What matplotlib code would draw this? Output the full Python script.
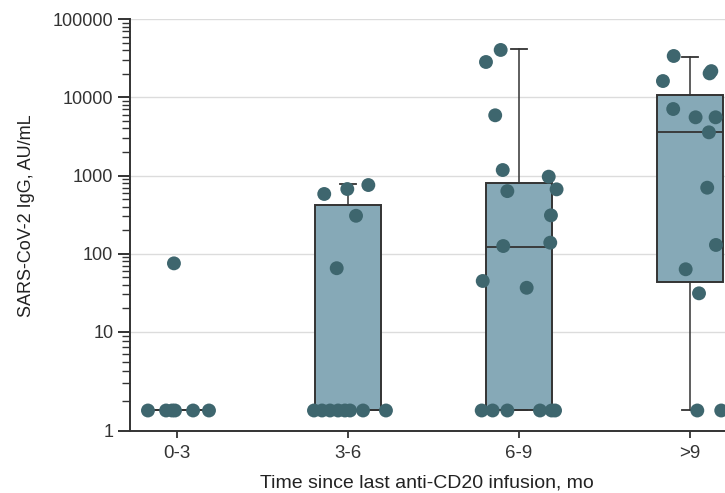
import numpy as np
import matplotlib.pyplot as plt
from matplotlib.ticker import FixedLocator, FixedFormatter, NullFormatter

plt.rcParams['font.family'] = ['Liberation Sans', 'DejaVu Sans']

# groups and read-off values
groups = ['0-3', '3-6', '6-9', '>9']
LOD = 1.6

vals_03 = [LOD, LOD, LOD, LOD, LOD, LOD, 75]
jit_03 = [-0.17, -0.064, -0.029, -0.012, 0.094, 0.187, -0.018]

vals_36 = [580, 671, 755, 305, 65, LOD, LOD, LOD, LOD, LOD, LOD, LOD, LOD]
jit_36 = [-0.139, -0.004, 0.119, 0.047, -0.066,
          -0.199, -0.152, -0.105, -0.058, -0.018, 0.012, 0.088, 0.222]

vals_69 = [28400, 40500, 5900, 1175, 631, 966, 665, 309, 138, 125, 44.6, 36.5,
           LOD, LOD, LOD, LOD, LOD, LOD]
jit_69 = [-0.193, -0.107, -0.139, -0.095, -0.068, 0.174, 0.22, 0.187, 0.183, -0.092, -0.212, 0.045,
          -0.218, -0.154, -0.068, 0.123, 0.191, 0.211]

vals_9 = [33900, 16200, 20300, 21700, 7100, 5560, 5560, 3570, 698, 129, 63, 31, LOD, LOD]
jit_9 = [-0.095, -0.158, 0.115, 0.125, -0.098, 0.033, 0.15, 0.111, 0.101, 0.152, -0.025, 0.053,
         0.043, 0.183]

# box stats: q1, median, q3, whisker low, whisker high
q1 = [LOD, LOD, LOD, 42.9]
med = [LOD, LOD, 122, 3570]
q3 = [LOD, 419, 809, 10700]
whislo = [LOD, LOD, LOD, LOD]
whishi = [LOD, 771, 41300, 32600]

box_color = '#86a9b7'
dot_color = '#3e666e'
line_color = '#333333'

# the bottom decade (1-10) is drawn taller than the others
K = 99 / 78.1


def fwd(y):
    y = np.asarray(y, dtype=float)
    t = np.log10(np.clip(y, 1e-6, None))
    return np.where(t >= 1, t, 1 - (1 - t) * K)


def inv(t):
    t = np.asarray(t, dtype=float)
    return np.where(t >= 1, 10 ** t, 10 ** (1 - (1 - t) / K))


fig = plt.figure(figsize=(7.25, 4.93), dpi=100)
ax = fig.add_axes([130 / 725, 62.3 / 493, 595 / 725, 411.4 / 493])
ax.set_yscale('function', functions=(fwd, inv))
ax.set_ylim(1, 100000)
ax.set_xlim(-0.275, 3.205)

stats = []
for i in range(4):
    stats.append(dict(q1=q1[i], med=med[i], q3=q3[i], whislo=whislo[i], whishi=whishi[i], fliers=[]))

ax.bxp(stats, positions=range(4), widths=0.39, capwidths=0.095, patch_artist=True,
       showfliers=False, zorder=2,
       boxprops=dict(facecolor=box_color, edgecolor=line_color, linewidth=1.4),
       medianprops=dict(color=line_color, linewidth=1.3),
       whiskerprops=dict(color=line_color, linewidth=1.1),
       capprops=dict(color=line_color, linewidth=1.3))

all_vals = [vals_03, vals_36, vals_69, vals_9]
all_jit = [jit_03, jit_36, jit_69, jit_9]
for i, (v, j) in enumerate(zip(all_vals, all_jit)):
    ax.scatter(i + np.array(j), v, s=100, color=dot_color, edgecolors='none', zorder=4, clip_on=False)

majors = [1, 10, 100, 1000, 10000, 100000]
minors = [m * 10 ** e for e in range(0, 5) for m in range(2, 10)]
ax.yaxis.set_major_locator(FixedLocator(majors))
ax.yaxis.set_major_formatter(FixedFormatter([str(m) for m in majors]))
ax.yaxis.set_minor_locator(FixedLocator(minors))
ax.yaxis.set_minor_formatter(NullFormatter())

ax.set_xticks(range(4))
ax.set_xticklabels(groups)

for y in majors[1:]:
    ax.axhline(y, color='#dcdcdc', linewidth=1.0, zorder=0)

for s in ['top', 'right']:
    ax.spines[s].set_visible(False)
for s in ['left', 'bottom']:
    ax.spines[s].set_color(line_color)
    ax.spines[s].set_linewidth(1.4)

ax.tick_params(axis='y', which='major', length=9, width=1.4, color=line_color,
               labelsize=13, labelcolor='#333333', pad=3)
ax.tick_params(axis='y', which='minor', length=6, width=1.0, color=line_color)
ax.tick_params(axis='x', which='major', length=5, width=1.3, color=line_color,
               labelsize=13.5, labelcolor='#333333', pad=5)

ax.set_xlabel('Time since last anti-CD20 infusion, mo', fontsize=14, color='#222222', va='center')
ax.set_ylabel('SARS-CoV-2 IgG, AU/mL', fontsize=13, color='#222222', va='center')
ax.xaxis.set_label_coords((427 - 130) / 595, -(483 - 430.7) / 411.4)
ax.yaxis.set_label_coords((27 - 130) / 595, (430.7 - 215.5) / 411.4)

fig.savefig('out.png', dpi=100)
